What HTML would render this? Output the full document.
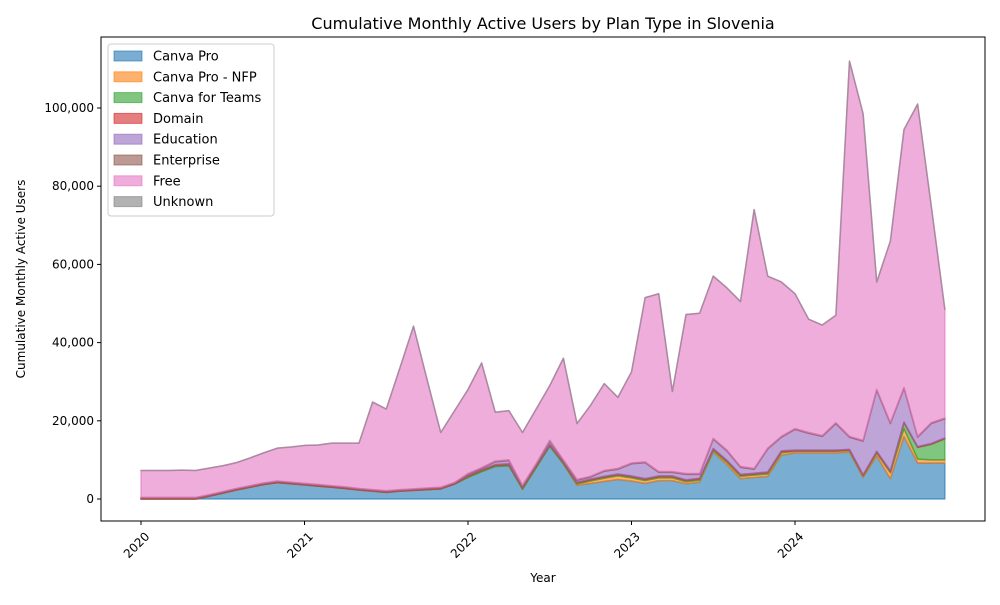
<!DOCTYPE html>
<html><head><meta charset="utf-8"><style>
body{margin:0;background:#fff;font-family:"Liberation Sans","DejaVu Sans",sans-serif;}
svg text{font-family:"DejaVu Sans","Liberation Sans",sans-serif;fill:#000;}
</style></head><body>
<svg id="chart" width="1000" height="600" viewBox="0 0 1000 600" xmlns="http://www.w3.org/2000/svg">
<rect width="1000" height="600" fill="#fff"/>
<text x="543" y="29" font-size="16" text-anchor="middle">Cumulative Monthly Active Users by Plan Type in Slovenia</text>
<g id="areas"></g>
<rect x="101" y="37" width="884" height="484" fill="none" stroke="#000" stroke-width="1"/>
<g id="axes"></g>
<text x="543" y="582" font-size="12" text-anchor="middle">Year</text>
<text transform="translate(25,279) rotate(-90)" font-size="12" text-anchor="middle">Cumulative Monthly Active Users</text>
<g id="legend"></g>
</svg>
<script>
const seriesNames = ["Canva Pro","Canva Pro - NFP","Canva for Teams","Domain","Education","Enterprise","Free","Unknown"];
const seriesColors = ["#1f77b4","#ff7f0e","#2ca02c","#d62728","#9467bd","#8c564b","#e377c2","#7f7f7f"];
const xTickLabels = ["2020","2021","2022","2023","2024"];
const yTickValues = [0,20000,40000,60000,80000,100000];
const canvaPro = [0,0,0,0,0,700,1500,2300,3000,3700,4200,3900,
 3600,3300,3000,2700,2300,2000,1700,2000,2200,2400,2600,3800,
 5500,7000,8300,8500,2500,8000,13500,9000,3500,4000,4500,5000,
 4600,4000,4700,4700,3900,4300,12000,8800,5200,5500,5800,11200,
 11800,11800,11800,11800,12000,5500,11000,5200,16000,9200,9200,9200];
const canvaProNfp = [0,0,0,0,0,0,0,0,0,0,0,0,
 0,0,0,0,0,0,0,0,0,0,0,0,
 0,0,0,0,0,0,0,0,300,600,800,900,
 800,700,700,700,500,500,400,600,600,600,600,600,
 400,400,400,400,400,400,700,1500,2000,1000,800,800];
const canvaTeams = [0,0,0,0,0,0,0,0,0,0,0,0,
 0,0,0,0,0,0,0,0,0,0,0,0,
 300,300,300,300,300,300,300,300,300,300,300,300,
 300,300,300,300,300,300,300,300,300,300,300,300,
 100,100,100,100,100,100,300,300,1500,3000,4000,5400];
const domain = [200,200,200,200,200,200,200,200,200,200,200,200,
 200,200,200,200,200,200,200,200,200,200,200,200,
 200,200,200,200,200,200,200,200,200,200,200,200,
 200,200,200,200,200,200,200,200,200,200,200,200,
 200,200,200,200,200,200,200,200,200,200,200,200];
const education = [100,100,100,100,100,100,100,100,100,100,100,100,
 100,100,100,100,100,100,100,100,100,100,100,100,
 300,300,700,800,300,300,800,300,500,500,1300,1200,
 3100,4100,900,900,1400,1000,2400,2400,1800,1000,5900,3500,
 5300,4300,3500,6800,3100,8600,15600,12100,8600,2400,5100,4900];
const enterprise = [100,100,100,100,100,100,100,100,100,100,100,100,
 100,100,100,100,100,100,100,100,100,100,100,100,
 200,200,200,200,200,200,200,200,200,200,200,200,
 200,200,200,200,200,200,200,200,200,200,200,200,
 200,200,200,200,200,200,200,200,200,200,200,200];
const free = [6900,6900,6900,7000,6900,6800,6600,6600,7100,7700,8400,9000,
 9700,10100,10900,11200,11600,22400,20900,31100,41600,27700,14000,18300,
 21500,26800,12500,12600,13500,14000,14000,26000,14300,18200,22200,18200,
 23300,42000,45500,20500,40700,41000,41500,41500,42200,66200,44000,39500,
 34500,29000,28300,27500,96000,83500,27500,46500,66000,85000,55500,27800];
const unknown = [0,0,0,0,0,0,0,0,0,0,0,0,0,0,0,0,0,0,0,0,0,0,0,0,
 0,0,0,0,0,0,0,0,0,0,0,0,0,0,0,0,0,0,0,0,0,0,0,0,
 0,0,0,0,0,0,0,0,0,0,0,0];
const seriesData = [canvaPro,canvaProNfp,canvaTeams,domain,education,enterprise,free,unknown];

const NS="http://www.w3.org/2000/svg";
function xScale(i){return 141 + i*(654/48);}
function yScale(v){return 499 - v*0.00391;}
function mk(tag,attrs){const e=document.createElementNS(NS,tag);for(const k in attrs)e.setAttribute(k,attrs[k]);return e;}

const areas=document.getElementById('areas');
const n=canvaPro.length;
let base=new Array(n).fill(0);
seriesData.forEach((s,si)=>{
  const top=base.map((b,i)=>b+s[i]);
  let d="M"+xScale(0)+","+yScale(top[0]);
  for(let i=1;i<n;i++) d+="L"+xScale(i)+","+yScale(top[i]);
  for(let i=n-1;i>=0;i--) d+="L"+xScale(i)+","+yScale(base[i]);
  d+="Z";
  const p=mk('path',{d:d,fill:seriesColors[si],'fill-opacity':0.6,stroke:seriesColors[si],'stroke-opacity':0.6,'stroke-width':1.5,'stroke-linejoin':'round'});
  
  
  areas.appendChild(p);
  base=top;
});

const axes=document.getElementById('axes');
yTickValues.forEach(v=>{
  const y=yScale(v);
  const t=mk('line',{x1:97,x2:101,y1:y,y2:y,stroke:'#000'});
  
  
  axes.appendChild(t);
  const l=mk('text',{x:94,y:y+4,'font-size':12,'text-anchor':'end'});
  
  
  l.textContent=v.toLocaleString('en-US');
  axes.appendChild(l);
});
xTickLabels.forEach((lab,k)=>{
  const x=xScale(k*12);
  const t=mk('line',{x1:x,x2:x,y1:521,y2:525,stroke:'#000'});
  
  
  axes.appendChild(t);
  const l=mk('text',{transform:'translate('+(x+3)+',531) rotate(-45)','font-size':12,'text-anchor':'end','dominant-baseline':'hanging'});
  
  
  l.textContent=lab;
  axes.appendChild(l);
});

const legend=document.getElementById('legend');
const box=mk('rect',{x:108,y:44,width:166,height:172,rx:3,fill:'#fff','fill-opacity':0.8,stroke:'#ccc'});


legend.appendChild(box);
seriesNames.forEach((nm,i)=>{
  const y=56+i*20.8;
  const sw=mk('rect',{x:114,y:y-5,width:28,height:10,fill:seriesColors[i],'fill-opacity':0.6,stroke:seriesColors[i],'stroke-opacity':0.6});
  
  
  legend.appendChild(sw);
  const tx=mk('text',{x:153,y:y+4.5,'font-size':13});
  
  
  tx.textContent=nm;
  legend.appendChild(tx);
});
</script>
</body></html>
